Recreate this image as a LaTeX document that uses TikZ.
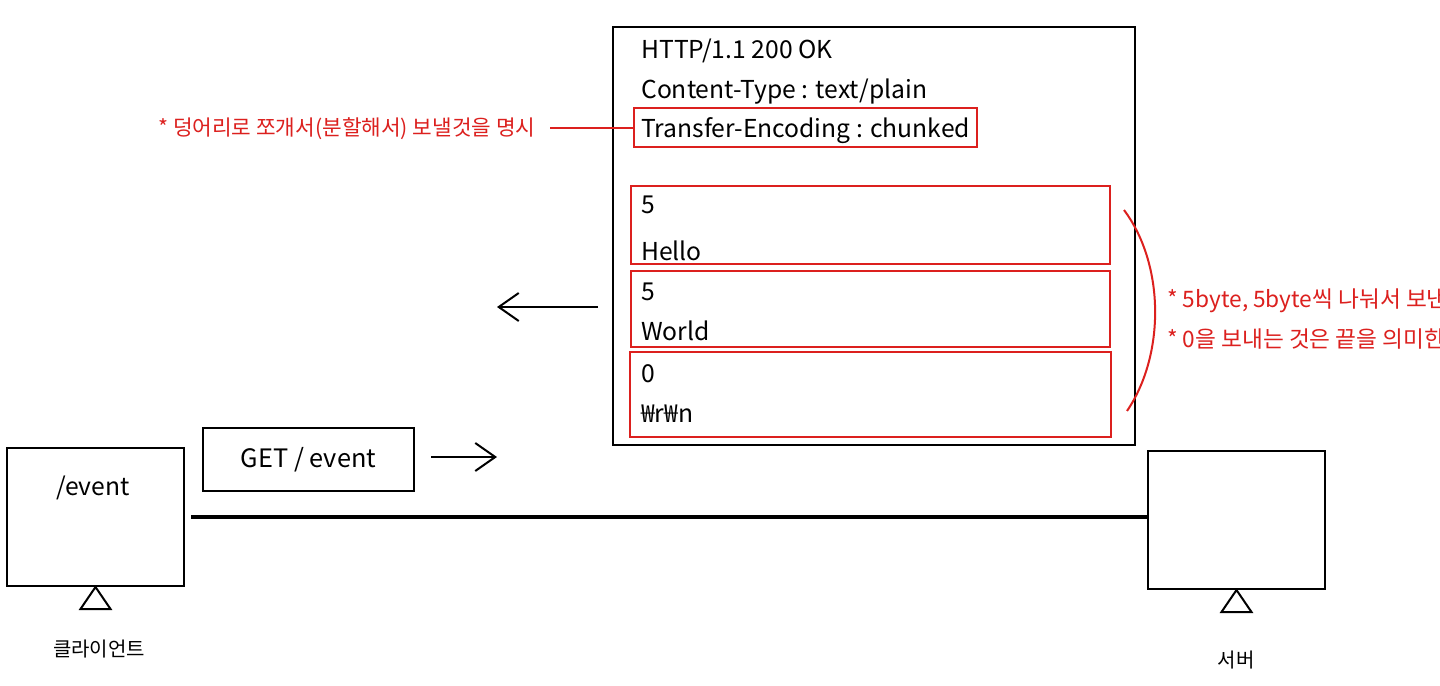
\documentclass[tikz,border=0pt]{standalone}
\usepackage{fontspec}
\setmainfont{Noto Sans CJK KR}
\usetikzlibrary{fit,arrows.meta}
\definecolor{mred}{RGB}{220,32,30}
\tikzset{
  blackbox/.style={draw=black, line width=1.5pt, inner sep=0pt, fill=none},
  redbox/.style={draw=mred, line width=1.5pt, inner sep=0pt},
  txt/.style={inner sep=0pt, anchor=base west, font=\fontsize{18.5}{22}\selectfont},
  rtxt/.style={inner sep=0pt, anchor=base west, text=mred, font=\fontsize{16}{19}\selectfont},
  ntxt/.style={inner sep=0pt, anchor=base west, text=mred, font=\fontsize{17}{20}\selectfont},
  ktxt/.style={inner sep=0pt, font=\fontsize{15}{18}\selectfont},
  arr/.style={line width=1.5pt, -{Straight Barb[length=15pt,width=21pt,line width=1.5pt]}},
  link/.style={line width=2.6pt},
  redline/.style={draw=mred, line width=1.5pt}
}
\begin{document}
\begin{tikzpicture}[x=0.75pt,y=-0.75pt]
\useasboundingbox (0,0) rectangle (1440,686);
\clip (0,0) rectangle (1440,686);
\fill[white] (0,0) rectangle (1440,686);
% response box
\node[blackbox, fit={(613,27) (1135,445)}] (resp) {};
\node[txt] (l1) at (641,58) {HTTP/1.1 200 OK};
\node[txt] (l2) at (641,98) {Content-Type : text/plain};
\node[redbox, fit={(634,108) (977,147)}] (teb) {};
\node[txt] (l3) at (641,137) {Transfer-Encoding : chunked};
% chunks
\node[redbox, fit={(631,186) (1110,264)}] (c1) {};
\node[redbox, fit={(631,271) (1110,347)}] (c2) {};
\node[redbox, fit={(630,352) (1111,437)}] (c3) {};
\node[txt] (c1a) at (641,213) {5};
\node[txt] (c1b) at (641,260) {Hello};
\node[txt] (c2a) at (641,300) {5};
\node[txt] (c2b) at (641,340) {World};
\node[txt] (c3a) at (641,382) {0};
\node[txt] (c3b) at (641,422) {₩r₩n};
% left label
\node[rtxt] (lbl) at (158,135) {* 덩어리로 쪼개서(분할해서) 보낼것을 명시};
\coordinate (lblend) at (550,127);
\draw[redline] (teb.west) -- (teb.west -| lblend);
% arc and right notes
\coordinate (arcA) at (1124,210);
\coordinate (arcB) at (1127,411);
\draw[redline] (arcA) .. controls (1165,265) and (1165,355) .. (arcB);
\node[ntxt] (n1) at (1167,307) {* 5byte, 5byte씩 나눠서 보낸다};
\node[ntxt] (n2) at (1167,347) {* 0을 보내는 것은 끝을 의미한다};
% arrows
\coordinate (alS) at (598,307);
\coordinate (alE) at (497,307);
\draw[arr] (alS) -- (alE);
% client
\node[blackbox, fit={(7,448) (184,586)}] (client) {};
\node[txt] (ev) at (56,495) {/event};
\draw[line width=1.5pt, line join=miter] (client.south) -- ++(-15,22) -- ++(30,0) -- cycle;
\node[ktxt] (clbl) at (99,649) {클라이언트};
% GET box
\node[blackbox, fit={(203,428) (414,491)}] (get) {};
\node[inner sep=0pt, font=\fontsize{19}{23}\selectfont] (gettxt) at (get.center) {GET / event};
\coordinate (arE) at (497,457);
\draw[arr] (get.east |- arE) ++(16,0) -- (arE);
% server
\node[blackbox, fit={(1148,451) (1325,589)}] (server) {};
\draw[line width=1.5pt, line join=miter] (server.south) -- ++(-15,22) -- ++(30,0) -- cycle;
\node[ktxt] (slbl) at (1236,660) {서버};
% link
\draw[link] ([xshift=4.5pt]client.east) -- (server.west |- client.east);
\end{tikzpicture}
\end{document}
